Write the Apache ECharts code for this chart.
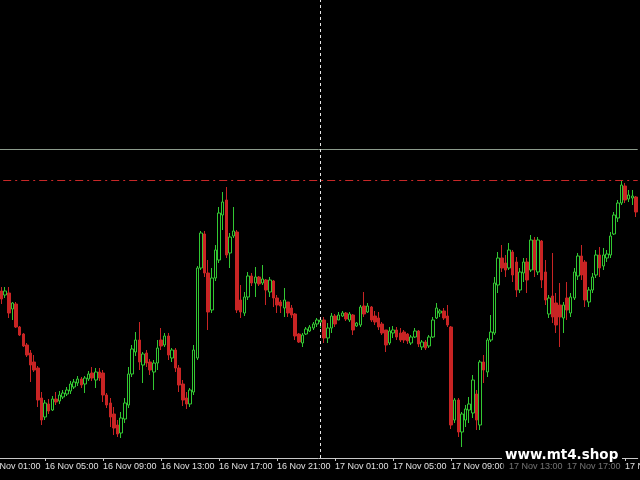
<!DOCTYPE html>
<html><head><meta charset="utf-8">
<script src="https://cdn.jsdelivr.net/npm/echarts@6/dist/echarts.min.js"></script>
<style>html,body{margin:0;padding:0;background:#000}#c{width:640px;height:480px}</style>
</head><body><div id="c"></div>
<script>
// M15 bars; the first bar slot is 16 Nov 01:00. The first three slots lie left of the visible area.
const leadBars = 3;
const barCount = 180;
const levelLine = 1.08505;    // grey horizontal level
const highLine = 1.08195;     // red dash-dot level
const separatorTime = '17 Nov 00:00';

const opens = [
1.0703,1.0709,1.0705,1.0707,1.0691,1.0696,1.0673,1.0666,1.0655,1.0647,
1.0638,1.0632,1.0602,1.0583,1.0596,1.0590,1.0601,1.0599,1.0603,1.0606,
1.0609,1.0613,1.0617,1.0621,1.0616,1.0621,1.0627,1.0620,1.0628,1.0627,
1.0605,1.0597,1.0586,1.0575,1.0567,1.0581,1.0595,1.0626,1.0648,1.0660,
1.0635,1.0647,1.0638,1.0628,1.0637,1.0660,1.0655,1.0664,1.0642,1.0650,
1.0632,1.0616,1.0602,1.0596,1.0608,1.0642,1.0732,1.0766,1.0727,1.0690,
1.0722,1.0740,1.0785,1.0800,1.0747,1.0764,1.0768,1.0700,1.0687,1.0703,
1.0724,1.0717,1.0723,1.0717,1.0720,1.0708,1.0719,1.0702,1.0698,1.0692,
1.0698,1.0692,1.0686,1.0666,1.0657,1.0666,1.0669,1.0672,1.0676,1.0678,
1.0680,1.0662,1.0672,1.0684,1.0680,1.0684,1.0687,1.0680,1.0685,1.0674,
1.0675,1.0694,1.0688,1.0693,1.0684,1.0682,1.0676,1.0670,1.0657,1.0667,
1.0670,1.0667,1.0668,1.0666,1.0657,1.0663,1.0669,1.0653,1.0658,1.0654,
1.0663,1.0682,1.0687,1.0689,1.0684,1.0673,1.0580,1.0600,1.0568,1.0580,
1.0590,1.0587,1.0606,1.0575,1.0638,1.0628,1.0660,1.0667,1.0715,1.0742,
1.0737,1.0732,1.0748,1.0738,1.0710,1.0727,1.0738,1.0730,1.0760,1.0728,
1.0759,1.0728,1.0686,1.0704,1.0697,1.0695,1.0682,1.0702,1.0687,1.0702,
1.0724,1.0744,1.0738,1.0698,1.0710,1.0725,1.0745,1.0734,1.0742,1.0745,
1.0766,1.0782,1.0797,1.0814,1.0801,1.0802,1.0803];

const closes = [
1.0708,1.0701,1.0709,1.0687,1.0697,1.0673,1.0665,1.0654,1.0645,1.0635,
1.0630,1.0600,1.0580,1.0597,1.0589,1.0601,1.0598,1.0605,1.0607,1.0610,
1.0616,1.0618,1.0621,1.0615,1.0622,1.0626,1.0622,1.0628,1.0622,1.0605,
1.0595,1.0583,1.0572,1.0566,1.0582,1.0597,1.0626,1.0651,1.0660,1.0638,
1.0646,1.0637,1.0630,1.0637,1.0652,1.0654,1.0664,1.0645,1.0650,1.0632,
1.0615,1.0600,1.0596,1.0610,1.0650,1.0732,1.0767,1.0727,1.0688,1.0722,
1.0750,1.0787,1.0798,1.0745,1.0763,1.0769,1.0690,1.0688,1.0703,1.0724,
1.0717,1.0723,1.0716,1.0721,1.0710,1.0720,1.0702,1.0695,1.0694,1.0700,
1.0687,1.0685,1.0664,1.0658,1.0665,1.0671,1.0673,1.0676,1.0680,1.0680,
1.0662,1.0672,1.0684,1.0676,1.0685,1.0687,1.0681,1.0686,1.0670,1.0677,
1.0693,1.0686,1.0694,1.0680,1.0678,1.0673,1.0667,1.0655,1.0669,1.0670,
1.0663,1.0660,1.0660,1.0659,1.0663,1.0669,1.0656,1.0658,1.0652,1.0663,
1.0680,1.0692,1.0689,1.0682,1.0675,1.0575,1.0600,1.0568,1.0586,1.0591,
1.0596,1.0620,1.0580,1.0638,1.0630,1.0660,1.0668,1.0717,1.0742,1.0732,
1.0730,1.0750,1.0725,1.0710,1.0728,1.0738,1.0720,1.0760,1.0730,1.0760,
1.0720,1.0700,1.0702,1.0683,1.0675,1.0683,1.0695,1.0690,1.0703,1.0728,
1.0744,1.0725,1.0700,1.0710,1.0723,1.0745,1.0732,1.0745,1.0746,1.0764,
1.0785,1.0797,1.0815,1.0800,1.0805,1.0804,1.0788];

const lows = [
1.0700,1.0696,1.0702,1.0682,1.0680,1.0672,1.0664,1.0653,1.0643,1.0618,
1.0628,1.0593,1.0575,1.0580,1.0586,1.0589,1.0595,1.0596,1.0601,1.0604,
1.0606,1.0611,1.0614,1.0612,1.0607,1.0619,1.0619,1.0612,1.0619,1.0598,
1.0592,1.0573,1.0565,1.0563,1.0562,1.0577,1.0592,1.0623,1.0644,1.0630,
1.0617,1.0633,1.0625,1.0610,1.0630,1.0650,1.0653,1.0640,1.0638,1.0628,
1.0608,1.0594,1.0591,1.0593,1.0605,1.0640,1.0730,1.0723,1.0670,1.0687,
1.0719,1.0737,1.0770,1.0742,1.0732,1.0762,1.0687,1.0682,1.0684,1.0700,
1.0714,1.0703,1.0714,1.0715,1.0695,1.0703,1.0693,1.0687,1.0687,1.0683,
1.0683,1.0682,1.0660,1.0657,1.0653,1.0665,1.0668,1.0670,1.0673,1.0672,
1.0657,1.0657,1.0667,1.0673,1.0680,1.0683,1.0679,1.0678,1.0665,1.0673,
1.0673,1.0683,1.0687,1.0678,1.0675,1.0670,1.0665,1.0648,1.0655,1.0662,
1.0660,1.0658,1.0657,1.0656,1.0655,1.0662,1.0653,1.0650,1.0650,1.0652,
1.0662,1.0681,1.0683,1.0680,1.0673,1.0571,1.0577,1.0563,1.0553,1.0573,
1.0577,1.0582,1.0570,1.0570,1.0617,1.0623,1.0658,1.0665,1.0707,1.0728,
1.0723,1.0730,1.0718,1.0703,1.0707,1.0718,1.0707,1.0728,1.0723,1.0725,
1.0712,1.0695,1.0682,1.0677,1.0667,1.0653,1.0667,1.0680,1.0683,1.0700,
1.0720,1.0720,1.0693,1.0693,1.0707,1.0722,1.0723,1.0730,1.0738,1.0742,
1.0765,1.0778,1.0795,1.0797,1.0798,1.0795,1.0783];

const highs = [
1.0711,1.0713,1.0713,1.0713,1.0698,1.0698,1.0674,1.0667,1.0657,1.0650,
1.0645,1.0634,1.0608,1.0600,1.0601,1.0604,1.0608,1.0609,1.0610,1.0613,
1.0619,1.0621,1.0624,1.0623,1.0624,1.0629,1.0633,1.0632,1.0632,1.0630,
1.0607,1.0602,1.0593,1.0580,1.0588,1.0602,1.0633,1.0655,1.0668,1.0678,
1.0648,1.0650,1.0641,1.0640,1.0660,1.0672,1.0667,1.0667,1.0652,1.0652,
1.0635,1.0620,1.0608,1.0612,1.0655,1.0734,1.0769,1.0769,1.0740,1.0732,
1.0755,1.0793,1.0808,1.0813,1.0767,1.0793,1.0770,1.0715,1.0708,1.0728,
1.0727,1.0733,1.0724,1.0735,1.0721,1.0723,1.0720,1.0705,1.0700,1.0712,
1.0698,1.0695,1.0687,1.0667,1.0667,1.0673,1.0675,1.0678,1.0682,1.0682,
1.0683,1.0677,1.0687,1.0686,1.0688,1.0689,1.0688,1.0688,1.0686,1.0678,
1.0695,1.0708,1.0697,1.0694,1.0689,1.0688,1.0678,1.0670,1.0673,1.0674,
1.0673,1.0672,1.0670,1.0667,1.0665,1.0672,1.0670,1.0660,1.0660,1.0665,
1.0683,1.0697,1.0691,1.0692,1.0695,1.0674,1.0602,1.0602,1.0588,1.0595,
1.0603,1.0625,1.0610,1.0640,1.0645,1.0662,1.0685,1.0723,1.0748,1.0755,
1.0745,1.0757,1.0750,1.0743,1.0732,1.0742,1.0742,1.0765,1.0763,1.0763,
1.0760,1.0740,1.0705,1.0747,1.0707,1.0717,1.0698,1.0718,1.0707,1.0732,
1.0747,1.0755,1.0740,1.0713,1.0727,1.0750,1.0753,1.0752,1.0750,1.0768,
1.0788,1.0800,1.0819,1.0817,1.0810,1.0810,1.0804];

// time categories: 16 Nov 01:00 onwards, 15-minute bars
const times = [];
for (let i = 0; i < barCount; i++) {
  const m = 60 + i * 15;
  const d = 16 + Math.floor(m / 1440);
  const hh = Math.floor((m % 1440) / 60), mm = m % 60;
  times.push(d + ' Nov ' + String(hh).padStart(2, '0') + ':' + String(mm).padStart(2, '0'));
}

const candles = [];
for (let i = 0; i < barCount; i++) {
  const j = i - leadBars;
  candles.push(j < 0 ? '-' : [opens[j], closes[j], lows[j], highs[j]]);
}

const every4h = function (index) { return index % 16 === 0; };

const chart = echarts.init(document.getElementById('c'), null, { renderer: 'canvas' });
chart.setOption({
  backgroundColor: '#000000',
  animation: false,
  grid: { left: -14.8125, right: 2.3125, top: 0, bottom: 22, containLabel: false, outerBoundsMode: 'none' },
  xAxis: {
    type: 'category',
    data: times,
    boundaryGap: true,
    axisLine: { show: true, lineStyle: { color: '#c8c8c8', width: 1 } },
    axisTick: { show: true, alignWithLabel: true, interval: every4h, length: 3, lineStyle: { color: '#c8c8c8' } },
    axisLabel: { interval: every4h, align: 'left', color: '#e0e0e0', fontFamily: 'Liberation Sans', fontSize: 9, margin: 4, hideOverlap: false },
    splitLine: { show: false }
  },
  yAxis: { type: 'value', min: 1.0542, max: 1.1000, show: false },
  series: [{
    type: 'candlestick',
    data: candles,
    barWidth: 3,
    itemStyle: {
      color: '#000000', color0: '#c82424',
      borderColor: '#32c832', borderColor0: '#c82424', borderWidth: 1
    },
    markLine: {
      silent: true, symbol: ['none', 'none'], label: { show: false }, animation: false, precision: 5,
      data: [
        { yAxis: levelLine, lineStyle: { color: '#8c9c8c', width: 1, type: 'solid', opacity: 1 } },
        { yAxis: highLine, lineStyle: { color: '#c82828', width: 1, type: [8, 4, 2, 4], opacity: 1 } },
        { xAxis: separatorTime, lineStyle: { color: '#e6e6e6', width: 1, type: [3, 3], opacity: 1 } }
      ]
    }
  }],
  graphic: [
    { type: 'rect', z: 100, shape: { x: 502, y: 446, width: 120, height: 16 }, style: { fill: '#000' } },
    { type: 'rect', z: 100, shape: { x: 502, y: 462, width: 120, height: 14 }, style: { fill: 'rgba(0,0,0,0.5)' } },
    { type: 'text', z: 101, x: 505, y: 455,
      style: { text: 'www.mt4.shop', fill: '#ffffff', fontFamily: 'DejaVu Sans', fontWeight: 'bold', fontSize: 13.5, verticalAlign: 'middle', textVerticalAlign: 'middle' } }
  ]
});
</script>
</body></html>
